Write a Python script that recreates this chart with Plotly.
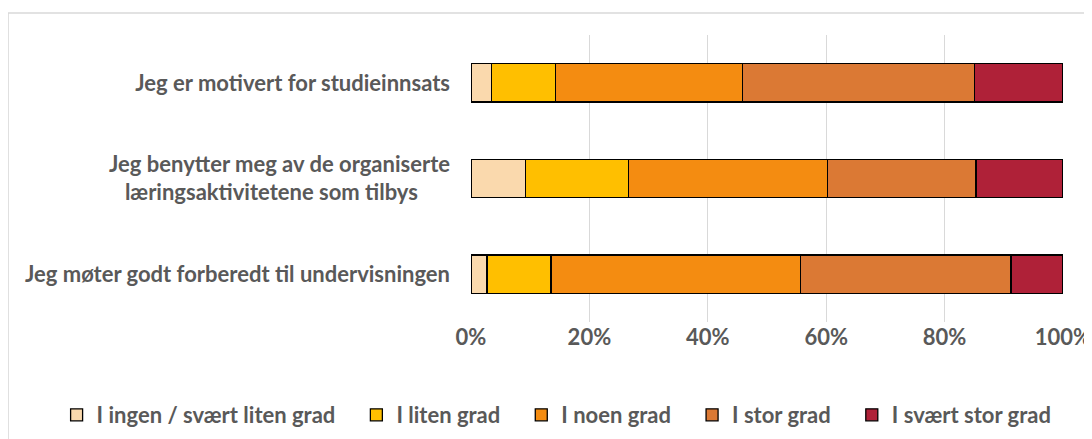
import plotly.graph_objects as go

categories = [
    "Jeg er motivert for studieinnsats",
    "Jeg benytter meg av de organiserte<br>læringsaktivitetene som tilbys&nbsp;&nbsp;&nbsp;&nbsp;&nbsp;&nbsp;",
    "Jeg møter godt forberedt til undervisningen",
]
series_names = ["I ingen / svært liten grad", "I liten grad", "I noen grad", "I stor grad", "I svært stor grad"]
ingen = [3.5, 9.2, 2.7]
liten = [10.8, 17.4, 10.8]
noen = [31.6, 33.6, 42.1]
stor = [39.2, 25.1, 35.6]
svaert_stor = [14.9, 14.7, 8.8]
colors = ["#FAD9AD", "#FFBF00", "#F48C11", "#DB7934", "#AF2138"]

values = [ingen, liten, noen, stor, svaert_stor]
total = [sum(v[i] for v in values) for i in range(len(categories))]

fig = go.Figure()
for name, vals, col in zip(series_names, values, colors):
    fig.add_trace(go.Bar(
        y=categories, x=[v / t for v, t in zip(vals, total)],
        name=name + "&nbsp;&nbsp;&nbsp;", orientation="h",
        marker=dict(color=col, line=dict(color="#000000", width=1.3)),
    ))

FONT = "Lato"
GRAY = "#595959"
FS = 22
fig.update_layout(
    barmode="stack",
    bargap=0.6,
    width=1084, height=431,
    margin=dict(l=463, r=29, t=27, b=117, autoexpand=False),
    paper_bgcolor="white", plot_bgcolor="white",
    font=dict(family=FONT, size=FS, color=GRAY, weight="bold"),
    xaxis=dict(range=[0, 1], tickformat=".0%", dtick=0.2, showgrid=True, gridcolor="#D9D9D9",
               gridwidth=1, zeroline=False, showline=False, fixedrange=True, automargin=False,
               tickfont=dict(family=FONT, size=FS, color=GRAY, weight="bold")),
    yaxis=dict(autorange="reversed", showgrid=False, ticklabelstandoff=20, automargin=False,
               tickfont=dict(family=FONT, size=FS, color=GRAY, weight="bold")),
    legend=dict(orientation="h", x=-0.70, xanchor="left", y=-0.324, yanchor="middle",
                traceorder="normal", font=dict(family=FONT, size=FS, color=GRAY, weight="bold"),
                itemwidth=30),
    showlegend=True,
    shapes=[dict(type="rect", xref="paper", yref="paper", x0=-0.782, x1=1.06, y0=-0.45, y1=1.077,
                 line=dict(color="#D9D9D9", width=1.5), layer="below")],
)
fig.write_html("out.html")
